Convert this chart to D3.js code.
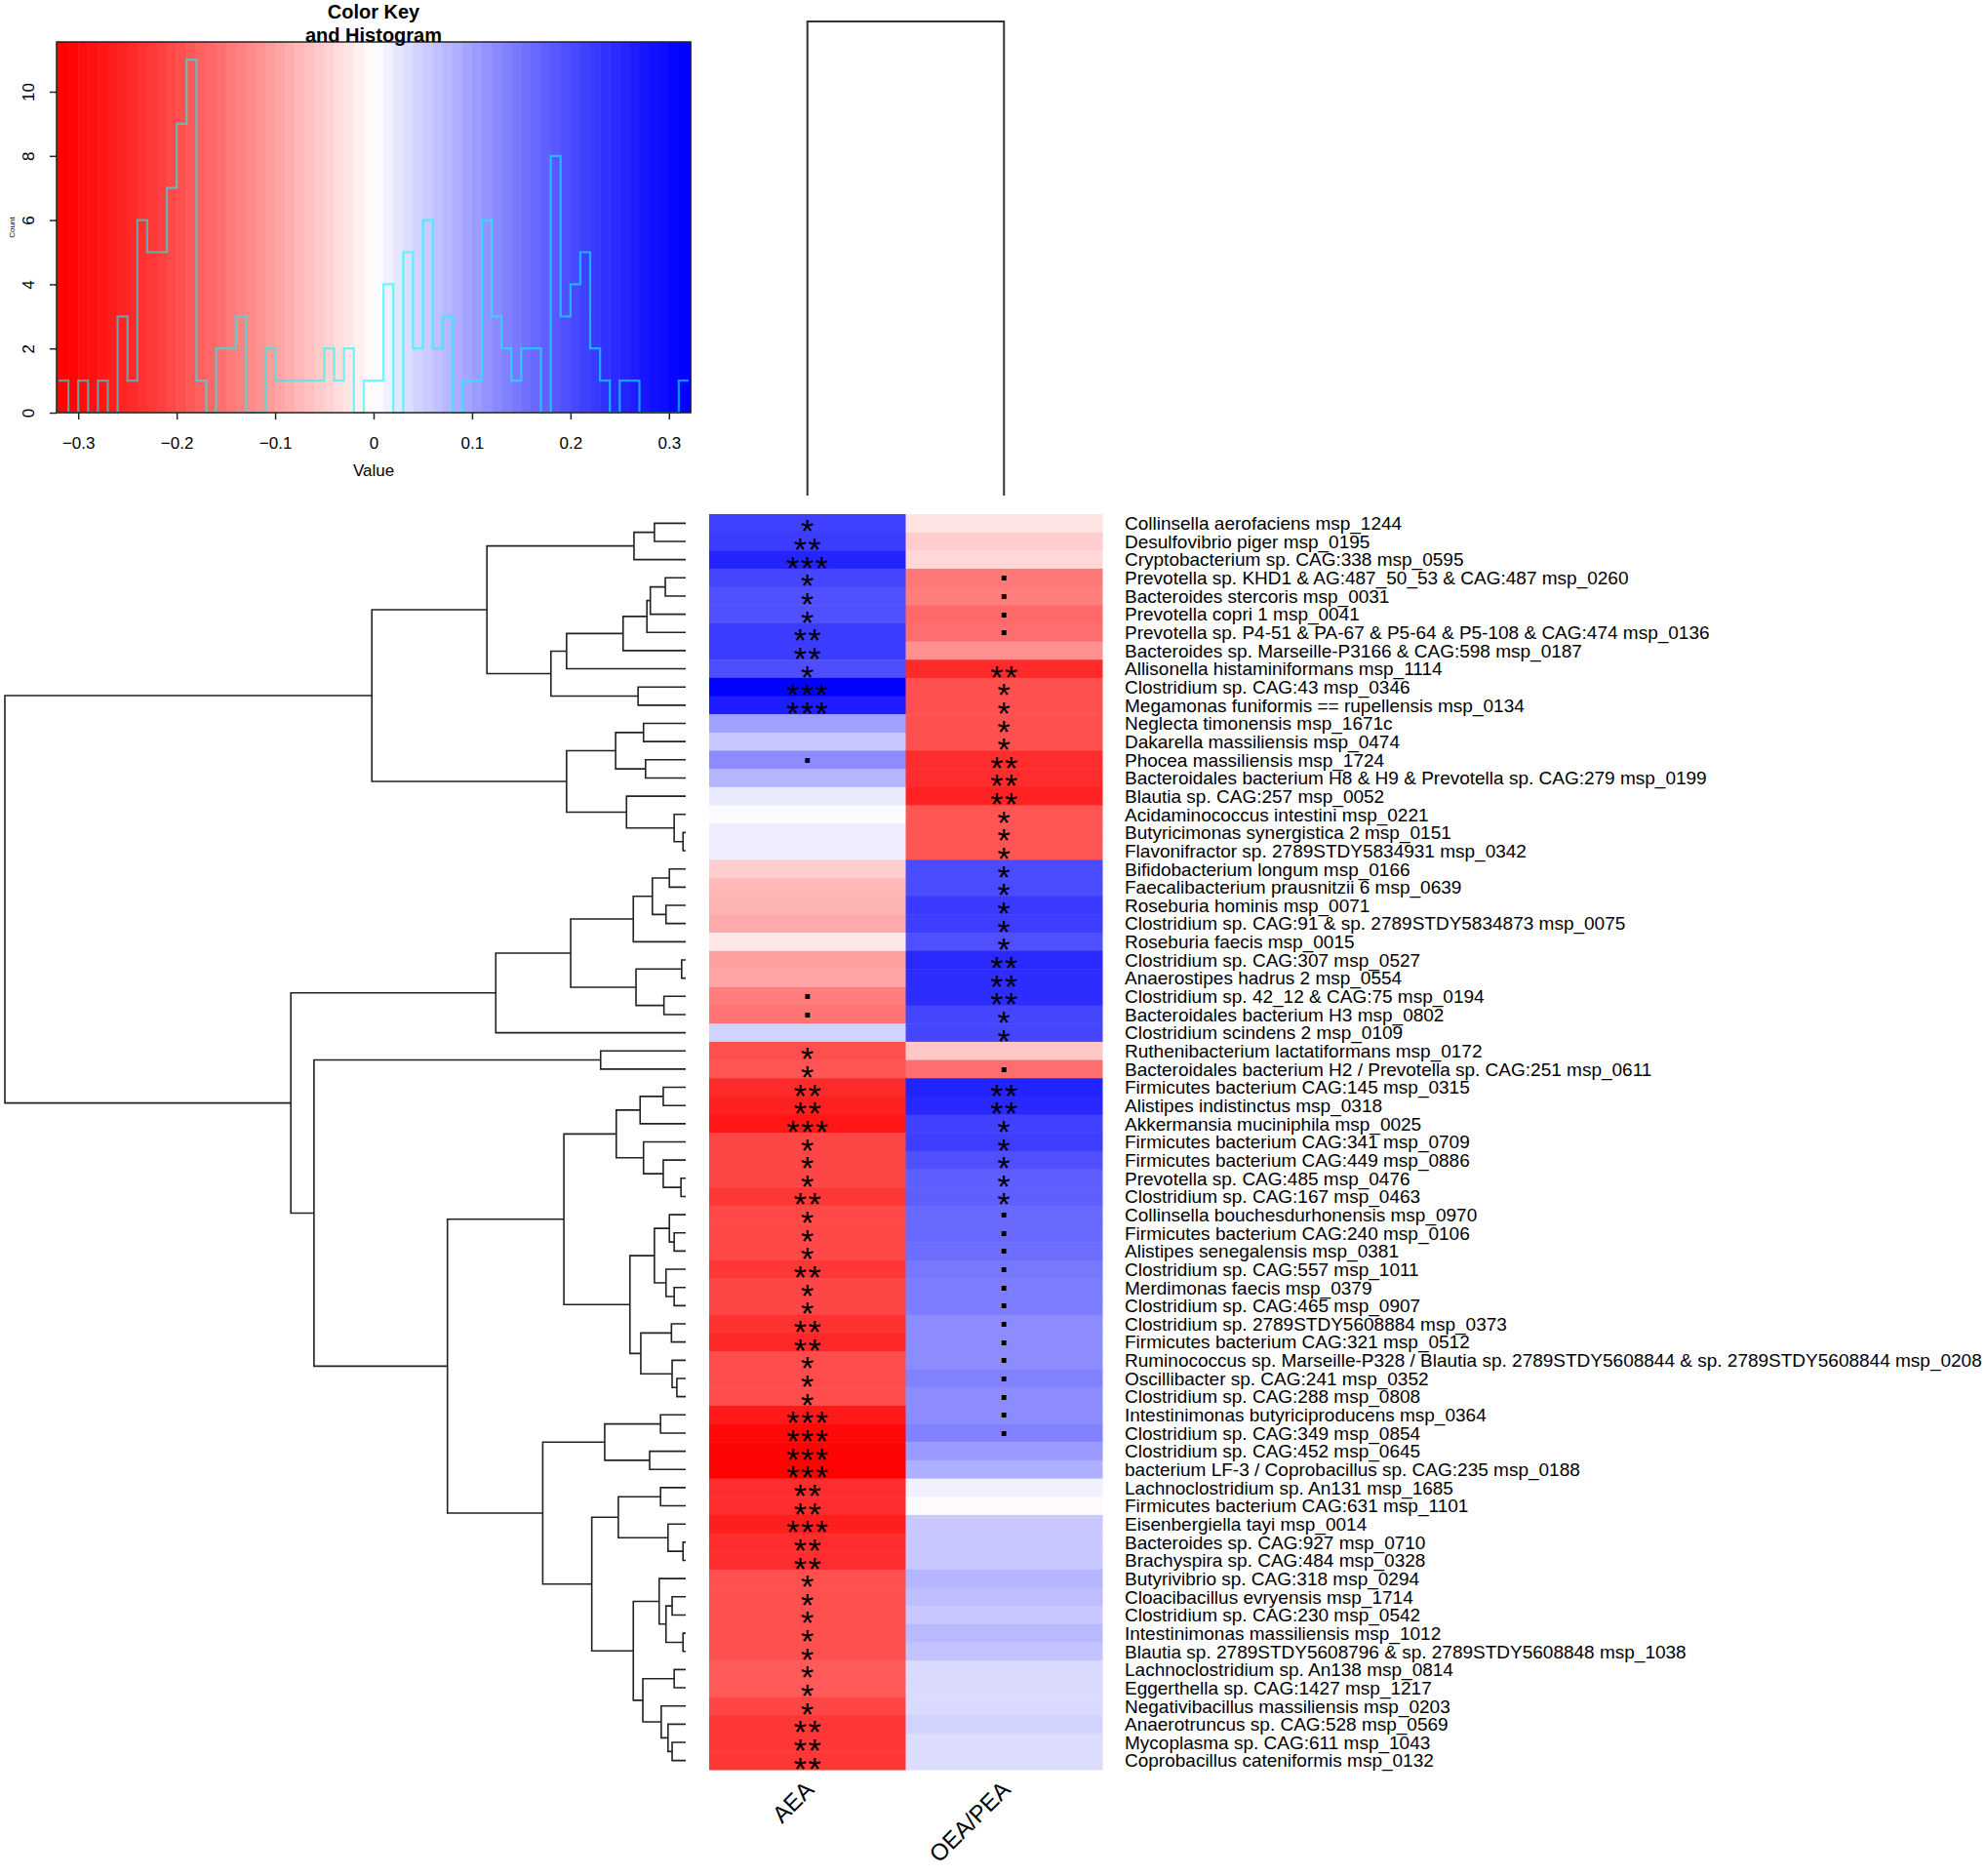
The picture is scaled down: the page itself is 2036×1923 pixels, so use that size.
<!DOCTYPE html>
<html>
<head>
<meta charset="utf-8">
<script src="https://cdn.jsdelivr.net/npm/d3@7"></script>
<style>
  body { margin: 0; background: #fff; }
  text { font-family: "Liberation Sans", Arial, sans-serif; }
</style>
</head>
<body>
<script>
// rows in the order shown (top to bottom)
const rowLabels = [
  "Collinsella aerofaciens msp_1244",
  "Desulfovibrio piger msp_0195",
  "Cryptobacterium sp. CAG:338 msp_0595",
  "Prevotella sp. KHD1 & AG:487_50_53 & CAG:487 msp_0260",
  "Bacteroides stercoris msp_0031",
  "Prevotella copri 1 msp_0041",
  "Prevotella sp. P4-51 & PA-67 & P5-64 & P5-108 & CAG:474 msp_0136",
  "Bacteroides sp. Marseille-P3166 & CAG:598 msp_0187",
  "Allisonella histaminiformans msp_1114",
  "Clostridium sp. CAG:43 msp_0346",
  "Megamonas funiformis == rupellensis msp_0134",
  "Neglecta timonensis msp_1671c",
  "Dakarella massiliensis msp_0474",
  "Phocea massiliensis msp_1724",
  "Bacteroidales bacterium H8 & H9 & Prevotella sp. CAG:279 msp_0199",
  "Blautia sp. CAG:257 msp_0052",
  "Acidaminococcus intestini msp_0221",
  "Butyricimonas synergistica 2 msp_0151",
  "Flavonifractor sp. 2789STDY5834931 msp_0342",
  "Bifidobacterium longum msp_0166",
  "Faecalibacterium prausnitzii 6 msp_0639",
  "Roseburia hominis msp_0071",
  "Clostridium sp. CAG:91 & sp. 2789STDY5834873 msp_0075",
  "Roseburia faecis msp_0015",
  "Clostridium sp. CAG:307 msp_0527",
  "Anaerostipes hadrus 2 msp_0554",
  "Clostridium sp. 42_12 & CAG:75 msp_0194",
  "Bacteroidales bacterium H3 msp_0802",
  "Clostridium scindens 2 msp_0109",
  "Ruthenibacterium lactatiformans msp_0172",
  "Bacteroidales bacterium H2 / Prevotella sp. CAG:251 msp_0611",
  "Firmicutes bacterium CAG:145 msp_0315",
  "Alistipes indistinctus msp_0318",
  "Akkermansia muciniphila msp_0025",
  "Firmicutes bacterium CAG:341 msp_0709",
  "Firmicutes bacterium CAG:449 msp_0886",
  "Prevotella sp. CAG:485 msp_0476",
  "Clostridium sp. CAG:167 msp_0463",
  "Collinsella bouchesdurhonensis msp_0970",
  "Firmicutes bacterium CAG:240 msp_0106",
  "Alistipes senegalensis msp_0381",
  "Clostridium sp. CAG:557 msp_1011",
  "Merdimonas faecis msp_0379",
  "Clostridium sp. CAG:465 msp_0907",
  "Clostridium sp. 2789STDY5608884 msp_0373",
  "Firmicutes bacterium CAG:321 msp_0512",
  "Ruminococcus sp. Marseille-P328 / Blautia sp. 2789STDY5608844 & sp. 2789STDY5608844 msp_0208",
  "Oscillibacter sp. CAG:241 msp_0352",
  "Clostridium sp. CAG:288 msp_0808",
  "Intestinimonas butyriciproducens msp_0364",
  "Clostridium sp. CAG:349 msp_0854",
  "Clostridium sp. CAG:452 msp_0645",
  "bacterium LF-3 / Coprobacillus sp. CAG:235 msp_0188",
  "Lachnoclostridium sp. An131 msp_1685",
  "Firmicutes bacterium CAG:631 msp_1101",
  "Eisenbergiella tayi msp_0014",
  "Bacteroides sp. CAG:927 msp_0710",
  "Brachyspira sp. CAG:484 msp_0328",
  "Butyrivibrio sp. CAG:318 msp_0294",
  "Cloacibacillus evryensis msp_1714",
  "Clostridium sp. CAG:230 msp_0542",
  "Intestinimonas massiliensis msp_1012",
  "Blautia sp. 2789STDY5608796 & sp. 2789STDY5608848 msp_1038",
  "Lachnoclostridium sp. An138 msp_0814",
  "Eggerthella sp. CAG:1427 msp_1217",
  "Negativibacillus massiliensis msp_0203",
  "Anaerotruncus sp. CAG:528 msp_0569",
  "Mycoplasma sp. CAG:611 msp_1043",
  "Coprobacillus cateniformis msp_0132"
];

const colLabels = ["AEA", "OEA/PEA"];

// correlation values
const aeaValues = [
  0.215, 0.221, 0.255, 0.208, 0.195, 0.195, 0.221, 0.221, 0.197, 0.315,
  0.265, 0.100, 0.057, 0.123, 0.078, 0.021, 0.005, 0.018, 0.018, -0.052,
  -0.073, -0.078, -0.089, -0.024, -0.100, -0.095, -0.140, -0.152, 0.046, -0.197,
  -0.188, -0.246, -0.261, -0.277, -0.208, -0.208, -0.208, -0.228, -0.205, -0.205,
  -0.205, -0.228, -0.208, -0.208, -0.234, -0.249, -0.200, -0.200, -0.200, -0.272,
  -0.300, -0.310, -0.315, -0.242, -0.242, -0.264, -0.242, -0.242, -0.195, -0.195,
  -0.195, -0.195, -0.195, -0.182, -0.182, -0.208, -0.228, -0.228, -0.228
];
const oeaValues = [
  -0.028, -0.052, -0.041, -0.146, -0.140, -0.164, -0.158, -0.117, -0.246, -0.195,
  -0.195, -0.195, -0.195, -0.242, -0.242, -0.256, -0.188, -0.188, -0.188, 0.200,
  0.200, 0.223, 0.218, 0.195, 0.246, 0.242, 0.242, 0.208, 0.208, -0.057,
  -0.158, 0.256, 0.249, 0.214, 0.218, 0.195, 0.176, 0.176, 0.164, 0.164,
  0.158, 0.146, 0.140, 0.140, 0.123, 0.123, 0.123, 0.134, 0.123, 0.123,
  0.134, 0.106, 0.084, 0.015, -0.005, 0.057, 0.057, 0.057, 0.078, 0.068,
  0.057, 0.073, 0.062, 0.038, 0.038, 0.038, 0.046, 0.036, 0.036
];

// significance marks
const aeaStars = [
  "*", "**", "***", "*", "*", "*", "**", "**", "*", "***",
  "***", "", "", ".", "", "", "", "", "", "",
  "", "", "", "", "", "", ".", ".", "", "*",
  "*", "**", "**", "***", "*", "*", "*", "**", "*", "*",
  "*", "**", "*", "*", "**", "**", "*", "*", "*", "***",
  "***", "***", "***", "**", "**", "***", "**", "**", "*", "*",
  "*", "*", "*", "*", "*", "*", "**", "**", "**"
];
const oeaStars = [
  "", "", "", ".", ".", ".", ".", "", "**", "*",
  "*", "*", "*", "**", "**", "**", "*", "*", "*", "*",
  "*", "*", "*", "*", "**", "**", "**", "*", "*", "",
  ".", "**", "**", "*", "*", "*", "*", "*", ".", ".",
  ".", ".", ".", ".", ".", ".", ".", ".", ".", ".",
  ".", "", "", "", "", "", "", "", "", "",
  "", "", "", "", "", "", "", "", ""
];

// row dendrogram, hclust style: negative = leaf (row number), positive = earlier merge
const rowMerges = [
  [-1, -2, 0.046], [1, -3, 0.076], [-4, -5, 0.030], [3, -6, 0.052], [4, -7, 0.057],
  [5, -8, 0.092], [6, -9, 0.175], [-10, -11, 0.070], [7, 8, 0.198], [2, 9, 0.292],
  [-12, -13, 0.062], [-14, -15, 0.059], [11, 12, 0.103], [-18, -19, 0.004], [-17, 14, 0.017],
  [-16, 15, 0.087], [13, 16, 0.175], [10, 17, 0.461], [-20, -21, 0.024], [-22, -23, 0.029],
  [19, 20, 0.049], [21, -24, 0.077], [-25, -26, 0.006], [-27, -28, 0.032], [23, 24, 0.073],
  [22, 25, 0.169], [26, -29, 0.279], [-30, -31, 0.125], [-32, -33, 0.033], [29, -34, 0.067],
  [-37, -38, 0.007], [-36, 31, 0.033], [-35, 32, 0.062], [30, 33, 0.102], [-40, -41, 0.017],
  [-39, 35, 0.024], [-43, -44, 0.017], [-42, 37, 0.029], [36, 38, 0.046], [-45, -46, 0.021],
  [-48, -49, 0.013], [-47, 41, 0.020], [40, 42, 0.066], [39, 43, 0.082], [34, 44, 0.179],
  [-50, -51, 0.037], [-52, -53, 0.053], [46, 47, 0.119], [-54, -55, 0.037], [-57, -58, 0.004],
  [-56, 50, 0.026], [49, 51, 0.099], [-60, -61, 0.020], [-62, -63, 0.004], [53, 54, 0.029],
  [-59, 55, 0.039], [-64, -65, 0.017], [-68, -69, 0.020], [-67, 58, 0.026], [-66, 59, 0.036],
  [57, 60, 0.063], [56, 61, 0.077], [52, 62, 0.138], [48, 63, 0.210], [45, 64, 0.350],
  [28, 65, 0.546], [27, 66, 0.580], [18, 67, 1.000]
];

// histogram of all cell values
const histStart = -0.32, histBinWidth = 0.01;
const histCounts = [
  1, 0, 1, 0, 1, 0, 3, 1, 6, 5, 5, 7, 9, 11, 1, 0,
  2, 2, 3, 0, 0, 2, 1, 1, 1, 1, 1, 2, 1, 2, 0, 1,
  1, 4, 0, 5, 2, 6, 2, 3, 0, 1, 1, 6, 3, 2, 1, 2,
  2, 0, 8, 3, 4, 5, 2, 1, 0, 1, 1, 0, 0, 0, 0, 1
];
const keyTicks = [-0.3, -0.2, -0.1, 0, 0.1, 0.2, 0.3];
const countTicks = [0, 2, 4, 6, 8, 10];

let width = 2036, height = 1923;
let svg = d3.select("body").append("svg")
  .attr("width", width)
  .attr("height", height);

let color = d3.scaleLinear()
  .domain([-0.322, 0, 0.322])
  .range(["#ff0000", "#ffffff", "#0000ff"])
  .interpolate(d3.interpolateRgb.gamma(0.8))
  .clamp(true);

// ---- heatmap ----
let x = d3.scaleBand().domain(colLabels).range([727, 1130]);
let y = d3.scaleBand().domain(d3.range(rowLabels.length)).range([527, 1814]);
let cx = c => x(c) + x.bandwidth() / 2;
let cy = i => y(i) + y.bandwidth() / 2;

let cells = [];
rowLabels.forEach((name, i) => {
  cells.push({ i, col: "AEA", v: aeaValues[i], s: aeaStars[i] });
  cells.push({ i, col: "OEA/PEA", v: oeaValues[i], s: oeaStars[i] });
});

svg.append("g").selectAll("rect")
  .data(cells).enter().append("rect")
  .attr("x", d => x(d.col))
  .attr("y", d => y(d.i))
  .attr("width", x.bandwidth() + 0.5)
  .attr("height", y.bandwidth() + 0.5)
  .attr("fill", d => color(d.v));

svg.append("g").selectAll("text")
  .data(cells.filter(d => d.s !== "")).enter().append("text")
  .attr("x", d => cx(d.col) + (d.s === "." ? 0 : 0.7))
  .attr("y", d => d.s === "." ? cy(d.i) + 3 : cy(d.i) + 20)
  .attr("text-anchor", "middle")
  .attr("font-size", 34)
  .attr("font-weight", d => d.s === "." ? "bold" : "normal")
  .attr("letter-spacing", d => d.s === "." ? 0 : 1.5)
  .attr("fill", "#000")
  .text(d => d.s);

// row labels
svg.append("g").selectAll("text")
  .data(rowLabels).enter().append("text")
  .attr("x", 1153)
  .attr("y", (d, i) => cy(i) + 6.8)
  .attr("font-size", 19)
  .attr("fill", "#000")
  .text(d => d);

// column labels
svg.append("g").selectAll("text")
  .data(colLabels).enter().append("text")
  .attr("transform", d => `translate(${cx(d) + 8},${1836}) rotate(-45)`)
  .attr("text-anchor", "end")
  .attr("font-size", 24)
  .attr("fill", "#000")
  .text(d => d);

// ---- row dendrogram ----
let hx = d3.scaleLinear().domain([0, 1]).range([703, 5]);
let nodes = [];
let pos = ref => ref < 0 ? { y: cy(-ref - 1), h: 0 } : nodes[ref - 1];
let dend = svg.append("g")
  .attr("fill", "none")
  .attr("stroke", "#222")
  .attr("stroke-width", 1.6);
rowMerges.forEach(([a, b, h]) => {
  let pa = pos(a), pb = pos(b);
  nodes.push({ y: (pa.y + pb.y) / 2, h: h });
  dend.append("path")
    .attr("d", `M${hx(pa.h)},${pa.y}H${hx(h)}V${pb.y}H${hx(pb.h)}`);
});

// ---- column dendrogram ----
let hy = d3.scaleLinear().domain([0, 1]).range([508, 22]);
svg.append("path")
  .attr("fill", "none")
  .attr("stroke", "#333")
  .attr("stroke-width", 2)
  .attr("d", `M${cx(colLabels[0])},${hy(0)}V${hy(1)}H${cx(colLabels[1])}V${hy(0)}`);

// ---- colour key and histogram ----
let kx = d3.scaleLinear().domain([-0.322, 0.322]).range([58, 708]);
let ky = d3.scaleLinear().domain([0, 11.55]).range([423, 43]);

let key = svg.append("g");
key.selectAll("rect")
  .data(histCounts).enter().append("rect")
  .attr("x", (d, i) => i === 0 ? kx.range()[0] : kx(histStart + i * histBinWidth))
  .attr("width", (d, i) => {
    let x0 = i === 0 ? kx.range()[0] : kx(histStart + i * histBinWidth);
    let x1 = i === histCounts.length - 1 ? kx.range()[1] : kx(histStart + (i + 1) * histBinWidth);
    return x1 - x0 + 0.5;
  })
  .attr("y", ky.range()[1])
  .attr("height", ky.range()[0] - ky.range()[1])
  .attr("fill", (d, i) => color(histStart + (i + 0.5) * histBinWidth));

let stepPts = histCounts.map((c, i) => [histStart + i * histBinWidth, c]);
stepPts.push([histStart + histCounts.length * histBinWidth, histCounts[histCounts.length - 1]]);
key.append("path")
  .datum(stepPts)
  .attr("fill", "none")
  .attr("stroke", "#00ffff")
  .attr("stroke-opacity", 0.58)
  .attr("stroke-width", 2.2)
  .attr("d", d3.line().x(d => kx(d[0])).y(d => ky(d[1])).curve(d3.curveStepAfter));

key.append("rect")
  .attr("x", kx.range()[0]).attr("y", ky.range()[1])
  .attr("width", kx.range()[1] - kx.range()[0])
  .attr("height", ky.range()[0] - ky.range()[1])
  .attr("fill", "none").attr("stroke", "#222").attr("stroke-width", 1.5);

let xAxis = key.append("g")
  .attr("transform", `translate(0,${ky.range()[0]})`)
  .call(d3.axisBottom(kx).tickValues(keyTicks).tickSize(7).tickPadding(18)
    .tickFormat(d => d === 0 ? "0" : d3.format(".1f")(d)));
xAxis.selectAll("text").attr("font-size", 17).attr("fill", "#000")
  .attr("font-family", "Liberation Sans, Arial, sans-serif");
xAxis.select(".domain").remove();
xAxis.selectAll("line").attr("stroke", "#222").attr("stroke-width", 1.5);

let yAxis = key.append("g")
  .attr("transform", `translate(${kx.range()[0]},0)`)
  .call(d3.axisLeft(ky).tickValues(countTicks).tickSize(7).tickPadding(0));
yAxis.select(".domain").remove();
yAxis.selectAll("line").attr("stroke", "#222").attr("stroke-width", 1.5);
yAxis.selectAll("text")
  .attr("font-size", 17).attr("fill", "#000")
  .attr("font-family", "Liberation Sans, Arial, sans-serif")
  .attr("text-anchor", "middle")
  .attr("x", null).attr("dy", null)
  .attr("transform", "translate(-29,0) rotate(-90)")
  .attr("dominant-baseline", "central");

key.append("text")
  .attr("x", (kx.range()[0] + kx.range()[1]) / 2).attr("y", 488)
  .attr("text-anchor", "middle").attr("font-size", 17)
  .text("Value");
key.append("text")
  .attr("transform", `translate(15,${(ky.range()[0] + ky.range()[1]) / 2}) rotate(-90)`)
  .attr("text-anchor", "middle").attr("font-size", 8)
  .text("Count");
key.append("text")
  .attr("x", (kx.range()[0] + kx.range()[1]) / 2).attr("y", 19)
  .attr("text-anchor", "middle").attr("font-size", 20).attr("font-weight", "bold")
  .text("Color Key");
key.append("text")
  .attr("x", (kx.range()[0] + kx.range()[1]) / 2).attr("y", 43)
  .attr("text-anchor", "middle").attr("font-size", 20).attr("font-weight", "bold")
  .text("and Histogram");
</script>
</body>
</html>
